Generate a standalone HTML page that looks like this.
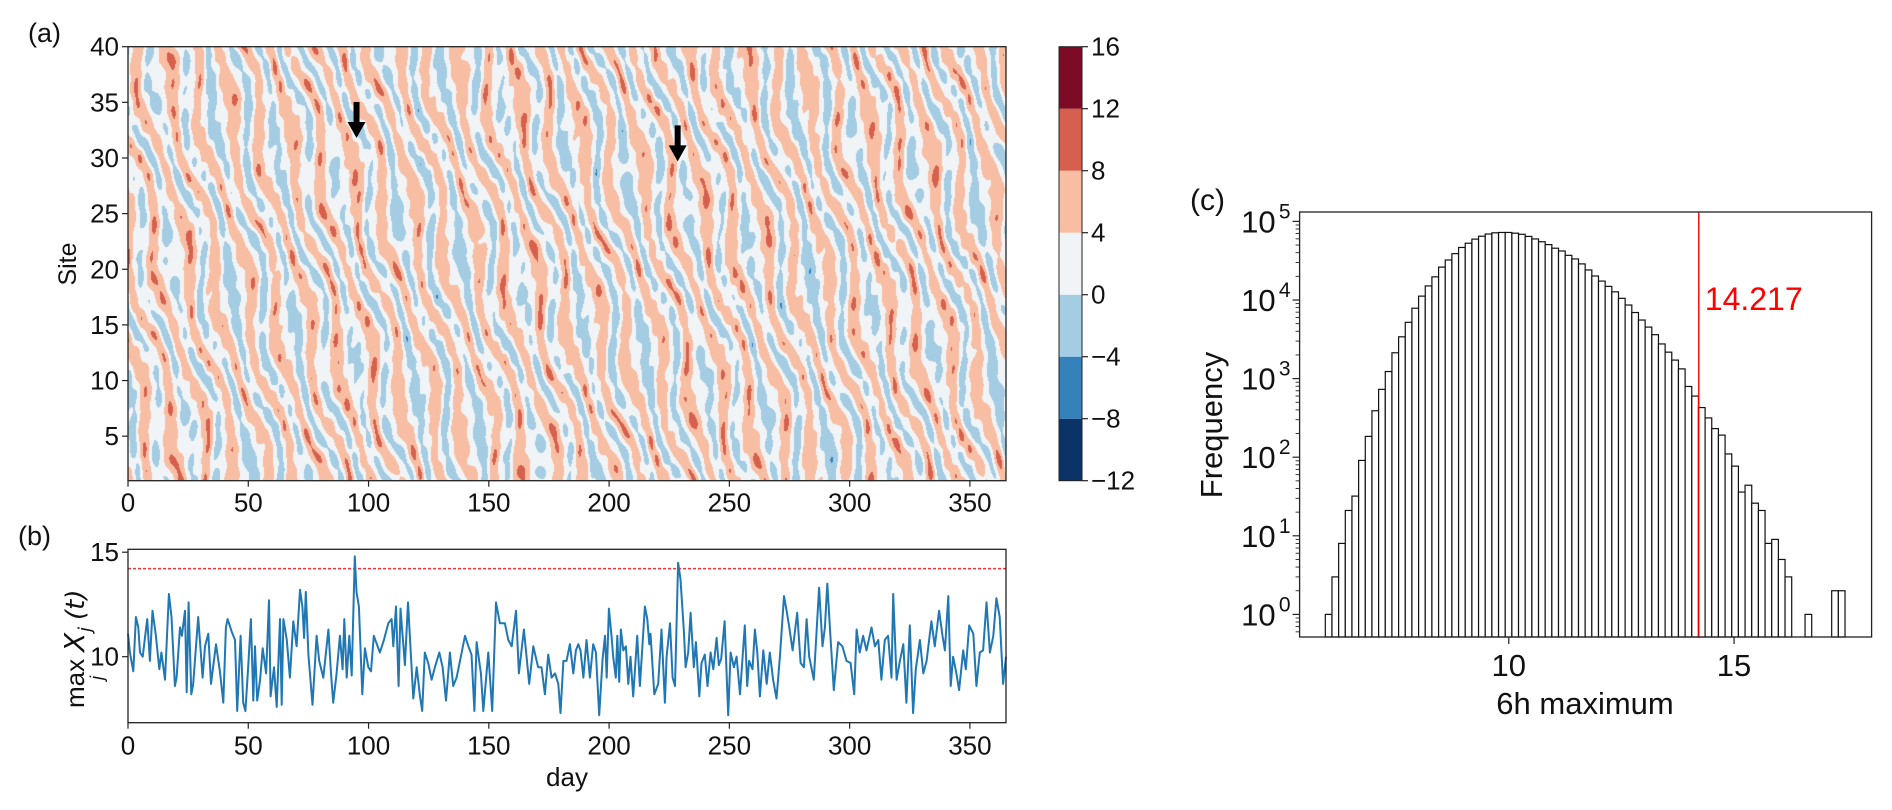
<!DOCTYPE html>
<html><head><meta charset="utf-8">
<style>
html,body{margin:0;padding:0;background:#fff;}
#wrap{position:relative;width:1892px;height:810px;overflow:hidden;font-family:"Liberation Sans","DejaVu Sans",sans-serif;}
#heat{position:absolute;left:128px;top:47px;}
#svg{position:absolute;left:0;top:0;}
</style></head>
<body>
<div id="wrap">
<canvas id="heat" width="878" height="434"></canvas>
<svg id="svg" width="1892" height="810" xmlns="http://www.w3.org/2000/svg"></svg>
</div>
<script>
// ---------- data ----------
const cbLevels = [-12,-8,-4,0,4,8,12,16];
const cbColors = ["#0a3468","#3581ba","#a4cce3","#f1f4f6","#f8bea3","#d6604d","#7d0b25"];
const aXTicks = [0,50,100,150,200,250,300,350];
const aYTicks = [5,10,15,20,25,30,35,40];
const bYTicks = [10,15];
const arrowDays = [95.0,228.5];
const arrowSites = [31.8,29.7];
const threshold = 14.217;
const tsDays = [0,0.8,2.2,3.3,4.3,5.0,6.1,8.0,9.1,10.2,11.6,13.0,13.9,15.4,17.0,18.1,19.5,20.2,21.6,22.4,23.7,24.4,25.2,26.3,27.1,29.2,31.0,32.0,33.4,34.5,36.6,38.2,39.6,40.7,41.4,43.1,44.5,45.4,46.8,47.9,48.8,50.0,51.1,52.1,52.8,53.7,54.9,56.0,57.4,58.6,59.3,60.7,61.8,63.2,63.9,64.6,66.0,67.3,68.7,70.1,71.5,72.5,73.2,73.9,75.0,76.7,78.4,79.5,81.2,83.3,84.4,85.3,86.7,88.1,89.2,89.9,90.9,92.0,93.0,94.3,95.0,96.0,97.4,98.5,99.9,101.0,102.2,104.7,106.4,108.2,109.6,110.3,111.4,112.5,113.3,115.1,116.4,118.6,120.0,121.4,122.3,123.4,124.8,126.2,127.6,129.4,130.8,132.2,133.8,135.2,136.6,138.0,140.1,141.5,142.8,144.0,144.9,146.7,147.7,149.8,151.4,153.0,154.6,156.7,158.1,159.5,161.3,162.5,164.6,166.8,168.5,170.5,171.9,173.3,174.7,176.1,177.5,178.9,179.8,181.0,182.3,183.7,185.1,186.2,187.2,188.1,189.3,190.6,192.0,193.4,194.5,195.9,197.3,198.3,199.0,199.9,201.0,201.7,202.8,203.4,204.2,204.9,205.9,207.0,208.0,208.9,210.0,211.7,212.8,214.9,215.9,216.7,217.2,218.8,220.4,221.8,223.2,223.9,225.3,226.4,227.4,228.7,229.7,231.1,231.8,232.9,233.9,235.2,236.1,237.5,238.4,239.8,240.9,242.2,243.3,244.7,245.6,246.6,248.0,249.5,250.5,251.9,253.0,254.4,256.4,257.4,258.2,259.6,260.6,261.6,262.7,264.1,265.5,266.8,268.2,269.6,271.0,272.7,273.8,274.9,276.3,278.2,279.6,281.0,282.1,283.2,285.1,287.3,288.7,289.7,290.7,292.0,293.4,295.2,297.0,298.7,300.4,301.9,302.9,304.2,305.6,307.0,309.1,310.5,311.9,313.2,314.6,316.0,317.4,318.1,319.5,320.9,322.3,323.6,325.0,326.4,327.5,329.2,330.6,332.0,334.0,335.4,337.2,338.6,339.6,341.0,342.0,343.0,344.4,345.5,347.2,348.3,349.7,351.4,352.7,354.1,355.5,356.9,358.3,359.7,361.0,362.4,363.8,365];
const tsValues = [11.1,10.2,9.3,11.9,11.4,10.2,10.0,11.8,9.8,12.2,11.0,9.4,10.2,8.9,13.0,11.9,8.6,9.0,11.4,11.0,12.2,8.3,12.6,8.2,8.7,11.9,9.0,10.5,11.1,8.7,10.6,9.3,7.8,11.4,11.8,11.2,10.8,7.4,11.0,7.8,7.4,9.6,11.8,7.9,10.5,7.9,8.9,10.4,9.2,12.7,8.1,9.5,7.6,11.8,7.7,11.8,10.8,9.0,11.7,10.5,13.2,12.4,10.9,13.1,10.1,7.7,11.0,9.8,9.0,11.3,9.2,7.8,9.2,11.0,9.4,11.8,9.0,11.0,9.1,14.8,13.1,12.4,8.2,10.4,9.5,9.3,11.0,10.2,10.8,11.6,11.8,10.5,12.4,8.6,12.3,9.6,12.6,8.0,9.5,8.1,7.4,10.2,9.7,8.9,9.5,10.2,9.5,7.9,10.2,8.6,9.0,9.8,11.0,10.5,10.1,7.4,10.7,9.2,7.4,10.2,7.4,12.6,11.6,11.6,10.8,10.5,12.2,9.2,11.3,8.7,10.5,9.5,9.5,8.2,10.1,9.0,9.2,8.7,7.3,9.8,9.8,10.6,9.2,10.3,10.6,10.3,9.0,10.8,9.0,10.6,10.2,7.2,9.9,11.0,9.0,12.3,11.0,10.0,9.0,11.0,8.8,11.3,10.3,10.5,8.7,10.0,8.1,11.0,8.6,12.4,11.8,10.6,11.1,8.2,8.7,11.3,7.8,10.0,11.6,9.0,8.6,14.5,13.7,11.2,9.5,10.2,12.1,9.5,10.7,8.1,9.7,10.1,8.6,10.2,9.4,10.9,9.6,9.9,11.7,7.2,10.2,9.5,10.0,8.2,11.5,8.6,9.8,9.4,11.3,10.2,8.1,10.3,8.7,10.2,8.9,8.0,10.0,12.9,12.2,11.4,10.3,12.1,9.7,9.5,11.8,10.0,8.9,13.3,10.5,11.4,13.5,11.0,8.4,10.7,10.5,9.8,9.7,8.2,11.3,10.2,11.0,10.3,11.4,10.5,10.8,8.9,10.8,11.0,9.0,13.0,8.9,9.8,10.6,7.8,11.5,7.3,9.4,10.8,9.2,9.8,11.7,10.5,12.2,11.0,10.3,12.9,8.6,10.0,9.2,8.4,10.3,9.4,11.5,11.1,8.6,10.2,10.3,12.6,10.2,11.0,12.8,11.9,8.7,10.0];
const histStart = 5.927;
const histBinWidth = 0.1479;
const histCounts = [1,3,8,21,32,91,184,390,730,1230,2130,3400,5200,7860,11200,15100,19700,26200,32300,38900,46600,52800,59500,64800,69100,71600,72300,72300,70800,68600,64400,59800,55100,50700,45600,42000,37000,33300,28800,24100,20200,17400,14900,12700,10500,8630,6930,5560,4520,3620,2760,2170,1720,1330,794,599,428,316,231,191,110,77,36,44,26,21,8,9,5,3,0,0,1,0,0,0,2,2];
const cXTicks = [10,15];
const cYDecades = [0,1,2,3,4,5];

// ---------- axes ----------
const A = {x0:128,x1:1006,y0:480.7,y1:46.7,dmin:0,dmax:365,smin:1,smax:40};
function xA(d){return A.x0+(d-A.dmin)/(A.dmax-A.dmin)*(A.x1-A.x0);}
function yA(s){return A.y0-(s-A.smin)/(A.smax-A.smin)*(A.y0-A.y1);}
const B = {top:549.3,bottom:722.7};
function yB(v){return 656.7-(v-10)*20.9;}
const C = {left:1299.6,right:1871.6,top:212,bottom:637};
function xC(v){return 1508.8+(v-10)*45.05;}
function yC(c){return 614.4-Math.log10(c)*78.6;}
const CB = {x0:1059,x1:1082,y0:480.7,y1:46.7};
function yCB(v){return CB.y0-(v+12)/28*(CB.y0-CB.y1);}

const NS="http://www.w3.org/2000/svg";
const svg=document.getElementById('svg');
function el(tag,attrs,parent){const e=document.createElementNS(NS,tag);for(const k in attrs)e.setAttribute(k,attrs[k]);(parent||svg).appendChild(e);return e;}
const FONT='"Liberation Sans","DejaVu Sans",sans-serif';

// ---------- heatmap texture ----------
(function(){
  const cv=document.getElementById('heat');const ctx=cv.getContext('2d');
  const W=cv.width,H=cv.height;const img=ctx.createImageData(W,H);
  const rgb=cbColors.map(c=>[parseInt(c.substr(1,2),16),parseInt(c.substr(3,2),16),parseInt(c.substr(5,2),16)]);
  for(let py=0;py<H;py++){for(let px=0;px<W;px++){
    const d=px/W*365, s=40-py/H*39;
    const ph=(d+1.1*s+3*Math.sin(0.05*d+0.4*s)+1.5*Math.sin(0.21*d-0.33*s))/11*2*Math.PI;
    const amp=4.1+1.9*Math.sin(0.31*d+0.7*s)*Math.sin(0.13*d-0.5*s);
    let v=2.9+amp*Math.sin(ph)+1.3*Math.sin(0.8*d-1.7*s+2*Math.sin(0.2*d))*Math.cos(0.27*d+0.9*s);
    let k=Math.floor((v+12)/4);k=Math.max(0,Math.min(6,k));const c=rgb[k];
    const i=(py*W+px)*4;img.data[i]=c[0];img.data[i+1]=c[1];img.data[i+2]=c[2];img.data[i+3]=255;
  }}
  ctx.putImageData(img,0,0);
})();

// ---------- panel a ----------
const frameA=el('rect',{x:A.x0,y:A.y1,width:A.x1-A.x0,height:A.y0-A.y1,fill:'none',stroke:'#222','stroke-width':1.3});

aXTicks.forEach(t=>{const x=xA(t);
  const tk=el('line',{x1:x,x2:x,y1:A.y0,y2:A.y0+6,stroke:'#222','stroke-width':1.2});
  
  const tx=el('text',{x:x,y:A.y0+31,'font-size':26,'text-anchor':'middle','font-family':FONT,fill:'#111'});tx.textContent=t;
  });
aYTicks.forEach(t=>{const y=yA(t);
  const tk=el('line',{x1:A.x0-6,x2:A.x0,y1:y,y2:y,stroke:'#222','stroke-width':1.2});
  
  const tx=el('text',{x:A.x0-9,y:y+9,'font-size':26,'text-anchor':'end','font-family':FONT,fill:'#111'});tx.textContent=t;
  });
const siteLbl=el('text',{x:0,y:0,'font-size':25,'text-anchor':'middle','font-family':FONT,fill:'#111',transform:'translate(76,264) rotate(-90)'});siteLbl.textContent='Site';

const la=el('text',{x:28,y:42,'font-size':27,'font-family':FONT,fill:'#111'});la.textContent='(a)';

arrowDays.forEach((d,i)=>{const x=xA(d),y=yA(arrowSites[i]);
  const p=el('path',{d:`M${x-3},${y-36} L${x+3},${y-36} L${x+3},${y-16} L${x+9},${y-16} L${x},${y} L${x-9},${y-16} L${x-3},${y-16} Z`,fill:'#000'});
  });

// colorbar
for(let i=0;i<7;i++){const r=el('rect',{x:CB.x0,y:yCB(cbLevels[i+1]),width:CB.x1-CB.x0,height:yCB(cbLevels[i])-yCB(cbLevels[i+1]),fill:cbColors[i]});
  }
const cbf=el('rect',{x:CB.x0,y:CB.y1,width:CB.x1-CB.x0,height:CB.y0-CB.y1,fill:'none',stroke:'#222','stroke-width':1});

cbLevels.forEach(t=>{const y=yCB(t);
  const tk=el('line',{x1:CB.x1,x2:CB.x1+6,y1:y,y2:y,stroke:'#222','stroke-width':1.2});
  
  const tx=el('text',{x:CB.x1+9,y:y+9,'font-size':26,'font-family':FONT,fill:'#111'});tx.textContent=(t<0?'\u2212'+(-t):t);
  });

// ---------- panel b ----------
const lb=el('text',{x:18,y:545,'font-size':27,'font-family':FONT,fill:'#111'});lb.textContent='(b)';

const thr=el('line',{x1:A.x0,x2:A.x1,y1:yB(threshold),y2:yB(threshold),stroke:'#ff3030','stroke-width':1.5,'stroke-dasharray':'3,2'});

let pd='';tsDays.forEach((d,i)=>{pd+=(i?'L':'M')+xA(d).toFixed(1)+','+yB(tsValues[i]).toFixed(1);});
const ts=el('path',{d:pd,fill:'none',stroke:'#1f77b4','stroke-width':2,'stroke-linejoin':'round'});

const frameB=el('rect',{x:A.x0,y:B.top,width:A.x1-A.x0,height:B.bottom-B.top,fill:'none',stroke:'#222','stroke-width':1.3});

aXTicks.forEach(t=>{const x=xA(t);
  const tk=el('line',{x1:x,x2:x,y1:B.bottom,y2:B.bottom+6,stroke:'#222','stroke-width':1.2});
  
  const tx=el('text',{x:x,y:B.bottom+32,'font-size':26,'text-anchor':'middle','font-family':FONT,fill:'#111'});tx.textContent=t;
  });
bYTicks.forEach(t=>{const y=yB(t);
  const tk=el('line',{x1:A.x0-6,x2:A.x0,y1:y,y2:y,stroke:'#222','stroke-width':1.2});
  
  const tx=el('text',{x:A.x0-9,y:y+9,'font-size':26,'text-anchor':'end','font-family':FONT,fill:'#111'});tx.textContent=t;
  });
const dayLbl=el('text',{x:567,y:786,'font-size':26,'text-anchor':'middle','font-family':FONT,fill:'#111'});dayLbl.textContent='day';

const yl=el('g',{transform:'translate(84,636) rotate(-90)'});

const t1=el('text',{x:-72,y:0,'font-size':26,'font-family':FONT,fill:'#111'},yl);t1.textContent='max';
const t2=el('text',{x:-44,y:19,'font-size':18,'font-family':FONT,'font-style':'italic',fill:'#111'},yl);t2.textContent='j';
const t3=el('text',{x:-16,y:0,'font-size':28,'font-family':"'DejaVu Sans',sans-serif",'font-style':'italic',fill:'#111'},yl);t3.textContent='X';
const t4=el('text',{x:4,y:7,'font-size':18,'font-family':"'DejaVu Sans',sans-serif",'font-style':'italic',fill:'#111'},yl);t4.textContent='j';
const t5=el('text',{x:16,y:0,'font-size':26,'font-family':"'DejaVu Sans',sans-serif",'font-style':'italic',fill:'#111'},yl);t5.textContent='(t)';

// ---------- panel c ----------
const lc=el('text',{x:1190,y:210,'font-size':30,'font-family':FONT,fill:'#111'});lc.textContent='(c)';

histCounts.forEach((c,i)=>{if(c<=0)return;const xl=xC(histStart+i*histBinWidth),xr=xC(histStart+(i+1)*histBinWidth);
  const r=el('rect',{x:xl,y:yC(c),width:xr-xl,height:C.bottom-yC(c),fill:'#fff',stroke:'#111','stroke-width':1.2});
  });
const vl=el('line',{x1:xC(threshold),x2:xC(threshold),y1:C.top,y2:C.bottom,stroke:'#ff0000','stroke-width':1.4});

const vt=el('text',{x:xC(threshold)+6,y:310,'font-size':32,'font-family':FONT,fill:'#ff0000'});vt.textContent=threshold.toFixed(3);

const frameC=el('rect',{x:C.left,y:C.top,width:C.right-C.left,height:C.bottom-C.top,fill:'none',stroke:'#222','stroke-width':1.3});

cXTicks.forEach(t=>{const x=xC(t);
  const tk=el('line',{x1:x,x2:x,y1:C.bottom,y2:C.bottom+7,stroke:'#222','stroke-width':1.2});
  
  const tx=el('text',{x:x,y:C.bottom+39,'font-size':31,'text-anchor':'middle','font-family':FONT,fill:'#111'});tx.textContent=t;
  });
cYDecades.forEach(dd=>{const y=yC(Math.pow(10,dd));
  const tk=el('line',{x1:C.left-7,x2:C.left,y1:y,y2:y,stroke:'#222','stroke-width':1.2});
  
  const tx=el('text',{x:C.left-24,y:y+11,'font-size':31,'text-anchor':'end','font-family':FONT,fill:'#111'});tx.textContent='10';
  
  const sp=el('text',{x:C.left-9,y:y-3,'font-size':21,'text-anchor':'end','font-family':FONT,fill:'#111'});sp.textContent=dd;
  });
for(let dd=-1;dd<=5;dd++){for(let k=2;k<=9;k++){const c=k*Math.pow(10,dd);const y=yC(c);if(y<C.top||y>C.bottom)continue;
  const mt=el('line',{x1:C.left-4,x2:C.left,y1:y,y2:y,stroke:'#222','stroke-width':0.9});
  }}
const fl=el('text',{x:0,y:0,'font-size':31,'text-anchor':'middle','font-family':FONT,fill:'#111',transform:'translate(1222,425) rotate(-90)'});fl.textContent='Frequency';

const xl6=el('text',{x:1585,y:714,'font-size':31,'text-anchor':'middle','font-family':FONT,fill:'#111'});xl6.textContent='6h maximum';

</script>
</body></html>
